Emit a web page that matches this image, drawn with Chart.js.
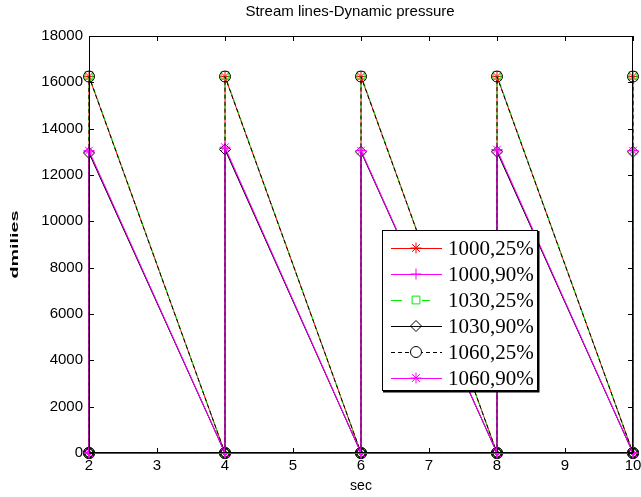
<!DOCTYPE html>
<html>
<head>
<meta charset="utf-8">
<script src="https://cdn.jsdelivr.net/npm/chart.js@4"></script>
<style>
    html, body { margin: 0; padding: 0; background: #fff; }
    #wrap { width: 641px; height: 497px; }
</style>
</head>
<body>
<div id="wrap"><canvas id="chart" width="641" height="497"></canvas></div>
<script>
// 時間軸 (sec) 與各組峰值
const seconds = [2, 4, 6, 8, 10];
const valley = [0, 0, 0, 0, 0];
const peak1000_25 = [16250, 16250, 16250, 16250, 16250];
const peak1000_90 = [13000, 13150, 13050, 13050, 13050];
const peak1030_25 = [16300, 16300, 16300, 16300, 16300];
const peak1030_90 = [12950, 13100, 13000, 13000, 13000];
const peak1060_25 = [16250, 16250, 16250, 16250, 16250];
const peak1060_90 = [13050, 13200, 13050, 13100, 13050];
const seriesLabels = ['1000,25%', '1000,90%', '1030,25%', '1030,90%', '1060,25%', '1060,90%'];
const yTicks = [0, 2000, 4000, 6000, 8000, 10000, 12000, 14000, 16000, 18000];
const xTicks = [2, 3, 4, 5, 6, 7, 8, 9, 10];
const chartTitle = 'Stream lines-Dynamic pressure';
const yTitle = 'dmilies';

const FONT = '"Liberation Sans", Arial, sans-serif';

const STYLES = [
    { color: '#ff0000', dash: [], legendDash: [], point: 'star' },
    { color: '#ff00ff', dash: [], legendDash: [], point: 'cross' },
    { color: '#00ee00', dash: [6, 4], legendDash: [11, 17], point: 'rect' },
    { color: '#000000', dash: [], legendDash: [], point: 'rectRot' },
    { color: '#000000', dash: [4, 3], legendDash: [4, 3], point: 'circle' },
    { color: '#ff00ff', dash: [], legendDash: [], point: 'star' },
];

// baseline first, then sawtooth: (x,0) -> (x,peak) -> next (x,0)
function buildPoints(peaks) {
    const pts = seconds.map((s, i) => ({ x: s, y: valley[i] }));
    seconds.forEach((s, i) => {
        pts.push({ x: s, y: valley[i] });
        pts.push({ x: s, y: peaks[i] });
    });
    return pts;
}

const peaks = [peak1000_25, peak1000_90, peak1030_25, peak1030_90, peak1060_25, peak1060_90];

const datasets = peaks.map((p, i) => ({
    label: seriesLabels[i],
    data: buildPoints(p),
    showLine: true,
    borderColor: STYLES[i].color,
    borderDash: STYLES[i].dash,
    borderWidth: 1,
    pointStyle: STYLES[i].point,
    pointRadius: 5.5,
    pointBorderColor: STYLES[i].color,
    pointBackgroundColor: 'rgba(0,0,0,0)',
    pointBorderWidth: 1,
    tension: 0,
    clip: false,
    order: peaks.length - i,
}));

// 外框 + 內側刻度 (MATLAB box) + 標題 + 圖例
const boxPlugin = {
    id: 'matlabBox',
    afterDraw(chart) {
        const { ctx, chartArea: a, scales } = chart;
        ctx.save();
        ctx.strokeStyle = '#000';
        ctx.lineWidth = 1;
        ctx.setLineDash([]);
        ctx.strokeRect(a.left + 0.5, a.top + 0.5, a.right - a.left - 1, a.bottom - a.top - 1);
        const len = 5;
        ctx.beginPath();
        xTicks.forEach(v => {
            const px = Math.round(scales.x.getPixelForValue(v)) + 0.5;
            ctx.moveTo(px, a.bottom); ctx.lineTo(px, a.bottom - len);
            ctx.moveTo(px, a.top); ctx.lineTo(px, a.top + len);
        });
        yTicks.forEach(v => {
            const py = Math.round(scales.y.getPixelForValue(v)) + 0.5;
            ctx.moveTo(a.left, py); ctx.lineTo(a.left + len, py);
            ctx.moveTo(a.right, py); ctx.lineTo(a.right - len, py);
        });
        ctx.stroke();

        // title
        ctx.fillStyle = '#000';
        ctx.font = '15px ' + FONT;
        ctx.textAlign = 'center';
        ctx.textBaseline = 'middle';
        ctx.fillText(chartTitle, 350, 12);

        // y title, stretched along the axis
        ctx.save();
        ctx.translate(15, (a.top + a.bottom) / 2);
        ctx.rotate(-Math.PI / 2);
        ctx.font = 'bold 10px ' + FONT;
        const w = ctx.measureText(yTitle).width;
        ctx.scale(68 / w, 1);
        ctx.fillText(yTitle, 0, 0);
        ctx.restore();

        // legend box
        const lx = a.left + 293, ly = a.top + 194, lw = 155, lh = 160;
        ctx.fillStyle = '#fff';
        ctx.fillRect(lx, ly, lw, lh);
        ctx.lineWidth = 1;
        ctx.strokeRect(lx + 0.5, ly + 0.5, lw, lh);
        ctx.lineWidth = 2;
        ctx.beginPath();
        ctx.moveTo(lx + lw + 1.5, ly + 1);
        ctx.lineTo(lx + lw + 1.5, ly + lh + 1.5);
        ctx.lineTo(lx + 1, ly + lh + 1.5);
        ctx.stroke();

        ctx.font = '21px "Liberation Serif", "Times New Roman", serif';
        ctx.textBaseline = 'middle';
        ctx.textAlign = 'left';
        chart.data.datasets.forEach((ds, i) => {
            const cy = ly + 18 + i * 26;
            ctx.strokeStyle = ds.borderColor;
            ctx.lineWidth = 1;
            ctx.setLineDash(STYLES[i].legendDash);
            ctx.beginPath();
            ctx.moveTo(lx + 9, cy + 0.5);
            ctx.lineTo(lx + 60, cy + 0.5);
            ctx.stroke();
            ctx.setLineDash([]);
            if (STYLES[i].legendDash.length) {
                ctx.fillStyle = '#fff';
                ctx.fillRect(lx + 28, cy - 6, 12, 12);
            }
            ctx.fillStyle = 'rgba(0,0,0,0)';
            Chart.helpers.drawPoint(ctx, {
                pointStyle: ds.pointStyle, radius: 5.5, rotation: 0, borderWidth: 1,
            }, lx + 34, cy);
            ctx.fillStyle = '#000';
            ctx.fillText(ds.label, lx + 66, cy + 1);
        });
        ctx.restore();
    },
};

new Chart(document.getElementById('chart'), {
    type: 'scatter',
    data: { datasets },
    options: {
        responsive: false,
        animation: false,
        layout: { padding: { left: 0, right: 8, top: 36, bottom: 0 } },
        scales: {
            x: {
                type: 'linear',
                min: 2,
                max: 10,
                ticks: {
                    stepSize: 1,
                    color: '#000',
                    padding: 4,
                    font: { size: 15, family: FONT },
                },
                grid: { display: false, drawTicks: false },
                border: { display: false },
                title: {
                    display: true,
                    text: 'sec',
                    color: '#000',
                    padding: { top: 2, bottom: 2 },
                    font: { size: 14, family: FONT },
                },
                afterFit: (s) => { s.height = 44; s.paddingRight = 0; s.paddingLeft = 0; },
            },
            y: {
                min: 0,
                max: 18000,
                ticks: {
                    stepSize: 2000,
                    color: '#000',
                    padding: 6,
                    font: { size: 15, family: FONT },
                    callback: (v) => String(v),
                },
                grid: { display: false, drawTicks: false },
                border: { display: false },
                afterFit: (s) => { s.width = 89; s.paddingTop = 0; },
            },
        },
        plugins: {
            legend: { display: false },
            tooltip: { enabled: false },
            title: { display: false },
        },
    },
    plugins: [boxPlugin],
});
</script>
</body>
</html>
